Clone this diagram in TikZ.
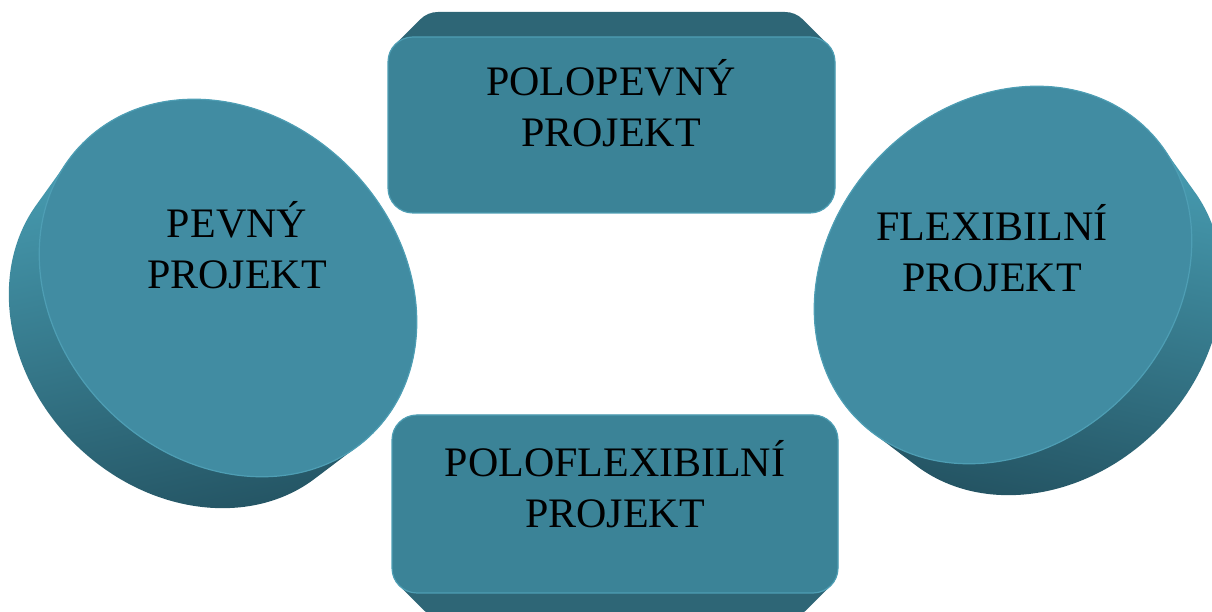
\documentclass[tikz,border=0pt]{standalone}
\usepackage{fontspec}
\setmainfont{Liberation Serif}
\definecolor{discface}{RGB}{65,140,162}
\definecolor{boxface}{RGB}{59,131,151}
\definecolor{rim}{RGB}{78,158,180}
\definecolor{sidelight}{RGB}{76,166,188}
\definecolor{sidemid}{RGB}{52,118,136}
\definecolor{sidedark}{RGB}{35,82,97}
\definecolor{boxside}{RGB}{46,102,118}
\tikzset{
  faceedge/.style={draw=rim, line width=1.2pt},
  caption/.style={font=\fontsize{42}{51}\selectfont, align=center, text=black, inner sep=0pt, anchor=base},
}
\begin{document}
\begin{tikzpicture}[x=1pt,y=1pt]
\useasboundingbox (0,0) rectangle (1212,612);
\clip (0,0) rectangle (1212,612);

% left disc: receding side (swept, shrinking ellipses), then front face
\begin{scope}[shift={(228,324)}, rotate=-45]
  \shade[top color=sidelight, middle color=sidemid, bottom color=sidedark, shading angle=12]
    \foreach \t in {0,0.04,...,1.001} { (0.7*\t,-54.4*\t) ellipse [x radius={205*(1-0.04*\t)}, y radius={171*(1-0.04*\t)}] };
  \fill[discface] (0,0) ellipse [x radius=205, y radius=171];
  \draw[faceedge] (0,0) ellipse [x radius=205, y radius=171];
\end{scope}

% right disc
\begin{scope}[shift={(1003,337)}, rotate=45]
  \shade[top color=sidelight, middle color=sidemid, bottom color=sidedark, shading angle=-12]
    \foreach \t in {0,0.04,...,1.001} { (-0.7*\t,-54.4*\t) ellipse [x radius={205*(1-0.04*\t)}, y radius={171*(1-0.04*\t)}] };
  \fill[discface] (0,0) ellipse [x radius=205, y radius=171];
  \draw[faceedge] (0,0) ellipse [x radius=205, y radius=171];
\end{scope}

% upper slab: receding top side, then front face
\fill[boxside, rounded corners=25]
  \foreach \t in {0,0.04,...,1.001} { (388+25*\t,575+25*\t) rectangle (835-25*\t,399+25*\t) };
\filldraw[fill=boxface, faceedge, rounded corners=25] (388,575) rectangle (835,399);

% lower slab: receding bottom side, then front face
\fill[boxside, rounded corners=25]
  \foreach \t in {0,0.04,...,1.001} { (392+25*\t,197-25*\t) rectangle (838-25*\t,19-25*\t) };
\filldraw[fill=boxface, faceedge, rounded corners=25] (392,197) rectangle (838,19);

% labels (anchored at the baseline of the last line)
\node[caption] (pevny) at (237,323) {PEVNÝ\\PROJEKT};
\node[caption] (polopevny) at (611,465) {POLOPEVNÝ\\PROJEKT};
\node[caption] (poloflex) at (615,84) {POLOFLEXIBILNÍ\\PROJEKT};
\node[caption] (flex) at (992,320) {FLEXIBILNÍ\\PROJEKT};
\end{tikzpicture}
\end{document}
